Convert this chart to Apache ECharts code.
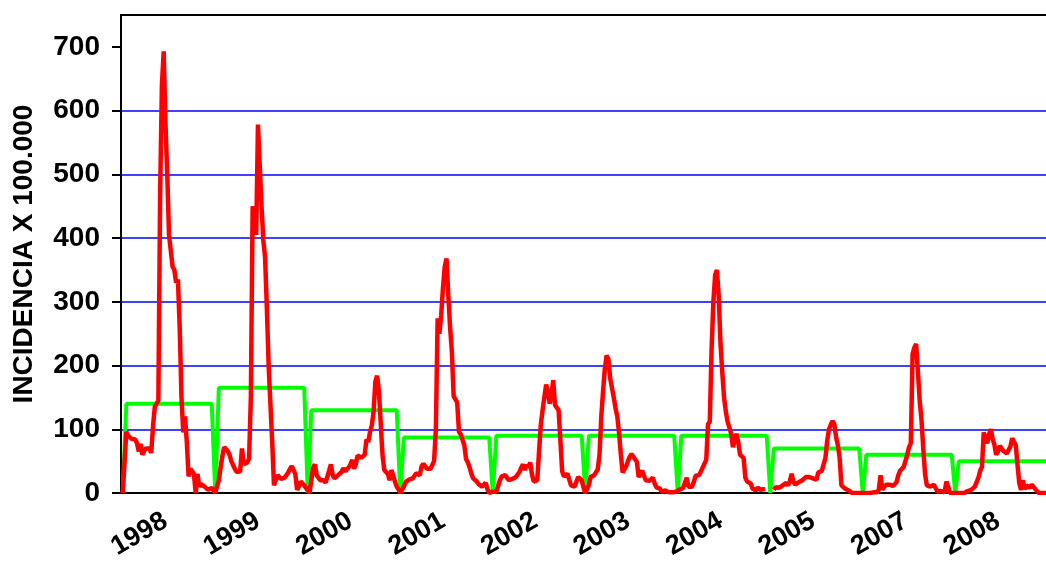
<!DOCTYPE html>
<html><head><meta charset="utf-8">
<script src="https://cdn.jsdelivr.net/npm/echarts@6/dist/echarts.min.js"></script>
<style>html,body{margin:0;padding:0;background:#fff}#c{width:1046px;height:567px}</style>
</head><body><div id="c"></div>
<script>
const yearLabels = ['1998','1999','2000','2001','2002','2003','2004','2005','2007','2008'];
const thresholds = [140,165,130,87,90,90,90,70,60,50];
const yTicks = [0,100,200,300,400,500,600,700];
const WEEKS_PER_YEAR = 52;

const red1998 = [0,0,96,90,87,85,84,84,78,65,77,60,66,70,72,70,63,105,135,140,145,470,640,693,580,500,405,380,355,350,330,335,260,150,95,120,80,26,38,41,30,0,30,10,14,12,10,8,5,2,8,10];
const red1999 = [0,0,20,40,58,72,71,66,60,50,44,38,33,33,34,70,45,42,48,54,150,450,438,405,578,575,450,397,370,290,200,140,80,12,20,28,30,22,24,24,22,32,38,42,44,30,5,10,18,16,12,8];
const red2000 = [8,0,0,40,45,28,30,20,22,20,16,17,35,45,28,23,26,28,30,33,39,34,37,40,45,52,38,45,59,58,55,54,60,84,80,96,106,128,175,184,160,110,60,36,36,30,20,36,28,18,10,6];
const red2001 = [0,0,10,17,20,21,23,23,25,31,28,28,42,46,44,38,35,38,44,50,100,274,250,279,322,355,368,310,260,222,152,147,142,96,92,90,75,53,48,40,30,23,21,18,14,11,10,10,16,6,0,0];
const red2002 = [2,2,2,3,20,26,26,28,28,20,18,22,24,25,27,33,40,45,36,44,40,48,30,18,21,20,65,107,130,150,170,160,140,155,177,138,134,130,83,34,26,27,30,28,12,11,10,10,25,28,20,9];
const red2003 = [0,6,12,25,27,28,31,37,60,120,160,195,216,210,180,165,150,133,120,94,60,32,30,42,50,57,61,60,53,49,25,22,35,32,20,20,19,20,24,15,9,7,7,2,0,4,2,1,1,1,1,2];
const red2004 = [2,5,6,8,11,24,10,8,10,17,27,30,28,34,40,38,52,108,112,225,300,342,350,310,235,190,150,128,112,103,93,72,75,93,80,60,58,55,24,18,20,15,7,10,4,9,5,7,6,6,null,null];
const red2005 = [null,null,5,9,8,8,9,12,15,16,12,18,30,18,13,15,17,18,20,20,25,25,25,22,23,24,21,32,35,35,36,55,82,100,107,113,108,88,75,55,12,10,7,5,4,1,0,0,0,0,0,0];
const red2007 = [0,0,0,0,0,0,1,2,1,5,28,5,4,13,14,13,12,11,13,17,28,35,38,41,43,60,72,78,218,228,234,190,145,115,70,30,12,11,10,12,13,10,2,5,3,2,1,18,10,0,0,0];
const red2008 = [0,0,0,0,0,0,0,3,6,5,5,10,7,24,35,41,95,85,78,92,100,85,76,60,65,74,72,66,63,62,63,73,86,88,75,44,15,5,20,6,12,13,8,13,10,6,3,0,0,0,0,0];

const redValues = [].concat(red1998, red1999, red2000, red2001, red2002, red2003, red2004, red2005, red2007, red2008);
const redData = redValues.map((v, i) => [i, v]);
const greenData = [];
thresholds.forEach((t, y) => {
  for (let w = 0; w < WEEKS_PER_YEAR; w++) greenData.push([y * WEEKS_PER_YEAR + w, w < 2 ? 0 : t]);
});
const labelPositions = yearLabels.map((_, y) => y * WEEKS_PER_YEAR + 24);
const total = yearLabels.length * WEEKS_PER_YEAR;

const FONT = 'Liberation Sans, Arial, sans-serif';
const chart = echarts.init(document.getElementById('c'), null, {renderer: 'canvas'});
chart.setOption({
  animation: false,
  backgroundColor: '#fff',
  grid: {left: 121, top: 15, width: 929, height: 478},
  xAxis: [{
    type: 'value', min: -1, max: total - 1,
    axisLine: {onZero: false, lineStyle: {color: '#000', width: 2}},
    axisTick: {show: false},
    splitLine: {show: false},
    axisLabel: {
      customValues: labelPositions,
      formatter: (v) => yearLabels[Math.floor(v / WEEKS_PER_YEAR)],
      rotate: 30, fontSize: 27, fontWeight: 'bold', color: '#000', fontFamily: FONT, margin: 26
    }
  }, {
    type: 'value', min: -1, max: total - 1, position: 'top',
    axisLine: {onZero: false, lineStyle: {color: '#000', width: 2}},
    axisTick: {show: false}, axisLabel: {show: false}, splitLine: {show: false}
  }],
  yAxis: {
    type: 'value', min: 0, max: 750, interval: 100,
    name: 'INCIDENCIA X 100.000', nameLocation: 'middle', nameGap: 83,
    nameTextStyle: {fontSize: 28, fontWeight: 'bold', color: '#000', fontFamily: FONT},
    axisLine: {show: true, onZero: false, lineStyle: {color: '#000', width: 2}},
    axisTick: {show: true, length: 9, lineStyle: {color: '#000', width: 2}, customValues: yTicks},
    axisLabel: {fontSize: 28, fontWeight: 'bold', color: '#000', fontFamily: FONT, margin: 21, customValues: yTicks},
    splitLine: {show: true, showMinLine: false, showMaxLine: false, lineStyle: {color: '#0000ff', width: 1.5}}
  },
  series: [{
    type: 'line', data: greenData, symbol: 'none', lineStyle: {color: '#00ff00', width: 4}, z: 2
  }, {
    type: 'line', data: redData, symbol: 'none', connectNulls: false, lineStyle: {color: '#ff0000', width: 4.5}, z: 3
  }]
});
</script></body></html>
